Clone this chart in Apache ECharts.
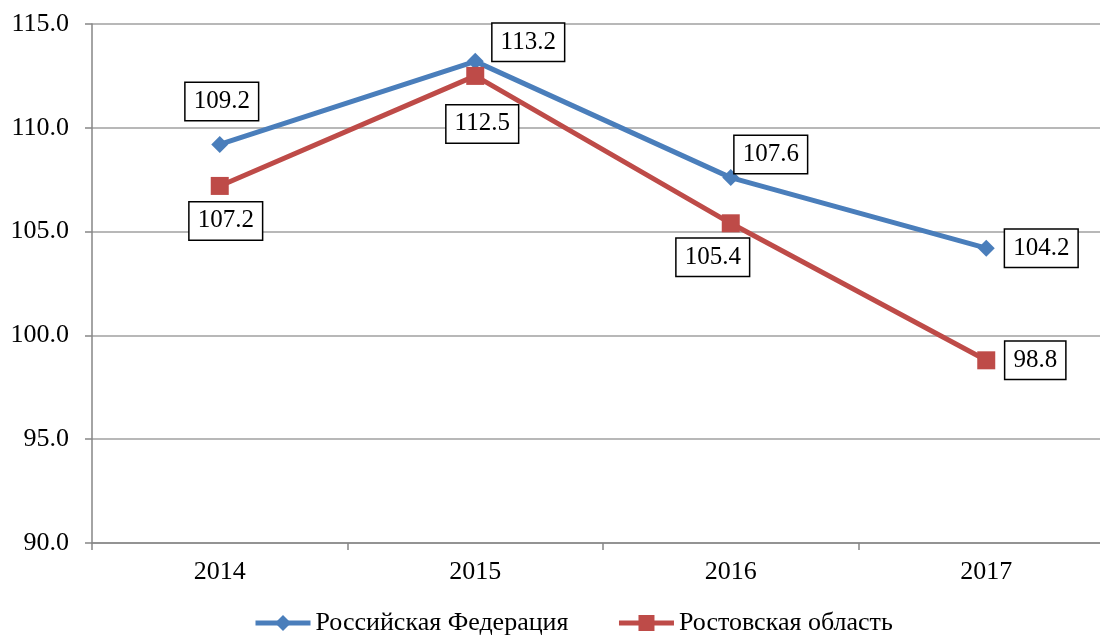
<!DOCTYPE html>
<html>
<head>
<meta charset="utf-8">
<script src="https://cdn.jsdelivr.net/npm/echarts@6/dist/echarts.min.js"></script>
<style>
  html, body { margin: 0; padding: 0; background: #fff; }
  #chart { width: 1100px; height: 641px; }
</style>
</head>
<body>
<div id="chart"></div>
<script>
// Years on the category axis
const years = ['2014', '2015', '2016', '2017'];
// Index values per series
const russiaValues = [109.2, 113.2, 107.6, 104.2];
const rostovValues = [107.2, 112.5, 105.4, 98.8];
const seriesNames = ['Российская Федерация', 'Ростовская область'];

// Label placement for each point (offset from the marker centre)
const russiaOffsets = [[2, -43], [53, -19], [40, -23], [55, 0]];
const rostovOffsets = [[6, 35], [7, 48], [-18, 34], [49, 0]];

const FONT = '"Liberation Serif", "Times New Roman", serif';
const BLUE = '#4A7EBB';
const RED = '#BE4B48';

function withLabels(values, offsets) {
  return values.map((v, i) => ({
    value: v,
    label: { offset: offsets[i] }
  }));
}

const labelStyle = {
  show: true,
  position: 'inside',
  formatter: p => p.value.toFixed(1),
  fontFamily: FONT,
  fontSize: 25,
  lineHeight: 26,
  color: '#000',
  backgroundColor: '#fff',
  borderColor: '#000',
  borderWidth: 1.5,
  padding: [6, 8, 5, 8]
};

const chart = echarts.init(document.getElementById('chart'), null, { renderer: 'canvas' });
chart.setOption({
  animation: false,
  backgroundColor: '#fff',
  // the last category runs past the right edge of the canvas
  grid: { left: 92, right: -14, top: 24, bottom: 98, containLabel: false, outerBoundsMode: 'none' },
  legend: {
    bottom: 0,
    left: 248,
    itemWidth: 55,
    itemHeight: 20,
    itemGap: 48,
    lineStyle: { width: 5 },
    textStyle: { fontFamily: FONT, fontSize: 26, color: '#000' },
    data: seriesNames
  },
  xAxis: {
    type: 'category',
    data: years,
    boundaryGap: true,
    axisLine: { lineStyle: { color: '#868686', width: 1.5 } },
    axisTick: { show: true, length: 7, lineStyle: { color: '#868686', width: 1.5 } },
    axisLabel: { fontFamily: FONT, fontSize: 26, color: '#000', margin: 16 },
    splitLine: { show: false }
  },
  yAxis: {
    type: 'value',
    min: 90,
    max: 115,
    interval: 5,
    axisLine: { show: true, lineStyle: { color: '#868686', width: 1.5 } },
    axisTick: { show: true, length: 7, lineStyle: { color: '#868686', width: 1.5 } },
    axisLabel: {
      fontFamily: FONT, fontSize: 26, color: '#000', margin: 23,
      formatter: v => v.toFixed(1)
    },
    splitLine: { show: true, lineStyle: { color: '#A0A0A0', width: 1.5 } }
  },
  series: [
    {
      name: seriesNames[0],
      type: 'line',
      data: withLabels(russiaValues, russiaOffsets),
      symbol: 'diamond',
      symbolSize: 17,
      lineStyle: { color: BLUE, width: 5 },
      itemStyle: { color: BLUE },
      label: labelStyle,
      z: 3
    },
    {
      name: seriesNames[1],
      type: 'line',
      data: withLabels(rostovValues, rostovOffsets),
      symbol: 'rect',
      symbolSize: 18,
      lineStyle: { color: RED, width: 5 },
      itemStyle: { color: RED },
      label: labelStyle,
      z: 4
    }
  ]
});
</script>
</body>
</html>
